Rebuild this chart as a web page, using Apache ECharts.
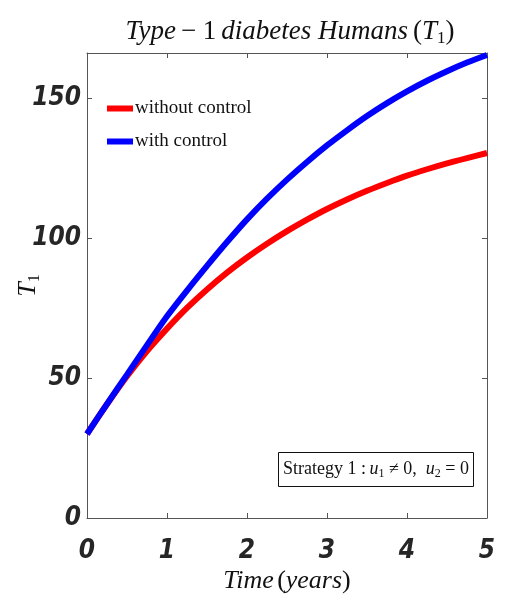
<!DOCTYPE html>
<html>
<head>
<meta charset="utf-8">
<script src="https://cdn.jsdelivr.net/npm/echarts@6/dist/echarts.min.js"></script>
<style>
  html, body { margin: 0; padding: 0; background: #fff; }
  #chart { width: 505px; height: 605px; }
</style>
</head>
<body>
<div id="chart"></div>
<script>
// Time points (years)
const timeYears = [0, 0.25, 0.5, 0.75, 1, 1.25, 1.5, 1.75, 2, 2.25, 2.5, 2.75, 3, 3.25, 3.5, 3.75, 4, 4.25, 4.5, 4.75, 5];
// T1 population without control
const withoutControl = [30, 40.6, 50.6, 59.6, 67.6, 75.0, 81.6, 87.6, 93.0, 97.9, 102.4, 106.5, 110.3, 113.7, 116.8, 119.6, 122.2, 124.5, 126.6, 128.5, 130.3];
// T1 population with control (strategy 1)
const withControl = [30, 40.7, 51.2, 61.7, 72.0, 81.2, 90.0, 98.5, 106.6, 114.0, 120.8, 127.1, 133.0, 138.4, 143.5, 148.1, 152.3, 156.1, 159.5, 162.6, 165.3];
const xTicks = [0, 1, 2, 3, 4, 5];
const yTicks = [0, 50, 100, 150];
const seriesNames = ['without control', 'with control'];

const tickFont = {
  fontFamily: '"DejaVu Sans Condensed", "Liberation Sans", sans-serif',
  fontWeight: 'bold',
  fontStyle: 'italic',
  fontSize: 26,
  color: '#262626'
};
const serif = '"Liberation Serif", "DejaVu Serif", serif';

const chart = echarts.init(document.getElementById('chart'));
const pair = arr => timeYears.map((t, i) => [t, arr[i]]);

const frameLine = { show: true, onZero: false, lineStyle: { color: '#555', width: 1 } };
const frameTick = { show: true, inside: true, length: 5, lineStyle: { color: '#555' } };

chart.setOption({
  animation: false,
  backgroundColor: '#fff',
  title: {
    text: '{i|Type} {r|− 1} {i|diabetes Humans} {r|(}{i|T}{s|1}{r|)}',
    left: 285,
    textAlign: 'center',
    top: 11,
    textStyle: {
      fontWeight: 'normal',
      rich: {
        i: { fontFamily: serif, fontStyle: 'italic', fontWeight: 'normal', fontSize: 27, color: '#111' },
        r: { fontFamily: serif, fontWeight: 'normal', fontSize: 27, color: '#111' },
        s: { fontFamily: serif, fontWeight: 'normal', fontSize: 17, color: '#111', padding: [14, 0, 0, 0] }
      }
    }
  },
  grid: { left: 87, right: 18, top: 53, bottom: 87, outerBoundsMode: 'none', containLabel: false },
  legend: {
    data: seriesNames,
    orient: 'vertical',
    left: 102,
    top: 94,
    itemWidth: 26,
    itemHeight: 6,
    itemGap: 14,
    icon: 'rect',
    textStyle: { fontFamily: serif, fontSize: 19, color: '#111', padding: [0, 0, 0, -3] }
  },
  xAxis: [{
    type: 'value',
    min: 0, max: 5, interval: 1,
    name: '{i|Time} {r|(}{i|years}{r|)}',
    nameLocation: 'middle',
    nameGap: 50,
    nameMoveOverlap: false,
    nameTextStyle: {
      rich: {
        i: { fontFamily: serif, fontStyle: 'italic', fontSize: 26, color: '#111' },
        r: { fontFamily: serif, fontSize: 26, color: '#111' }
      }
    },
    axisLine: frameLine,
    axisTick: frameTick,
    axisLabel: Object.assign({ margin: 20, formatter: v => xTicks.includes(v) ? String(v) : '' }, tickFont),
    splitLine: { show: false }
  }, {
    type: 'value',
    position: 'top',
    min: 0, max: 5, interval: 1,
    axisLine: frameLine,
    axisTick: frameTick,
    axisLabel: { show: false },
    splitLine: { show: false }
  }],
  yAxis: [{
    type: 'value',
    min: 0, max: 166, interval: 50,
    name: '{i|T}{s|1}',
    nameLocation: 'middle',
    nameGap: 44,
    nameMoveOverlap: false,
    nameRotate: 90,
    nameTextStyle: {
      rich: {
        i: { fontFamily: serif, fontStyle: 'italic', fontSize: 26, color: '#111' },
        s: { fontFamily: serif, fontSize: 16, color: '#111', padding: [14, 0, 0, 0] }
      }
    },
    axisLine: frameLine,
    axisTick: frameTick,
    axisLabel: Object.assign({ margin: 6, showMaxLabel: false, formatter: v => yTicks.includes(v) ? String(v) : '' }, tickFont),
    splitLine: { show: false }
  }, {
    type: 'value',
    position: 'right',
    min: 0, max: 166, interval: 50,
    axisLine: frameLine,
    axisTick: frameTick,
    axisLabel: { show: false },
    splitLine: { show: false }
  }],
  series: [{
    name: seriesNames[0],
    type: 'line',
    data: pair(withoutControl),
    smooth: 0.3,
    showSymbol: false,
    color: '#ff0000',
    lineStyle: { color: '#ff0000', width: 6 },
    z: 2
  }, {
    name: seriesNames[1],
    type: 'line',
    data: pair(withControl),
    smooth: 0.3,
    showSymbol: false,
    color: '#0000ff',
    lineStyle: { color: '#0000ff', width: 6 },
    z: 3
  }],
  graphic: [{
    type: 'rect',
    shape: { x: 278.5, y: 452.5, width: 195, height: 34 },
    style: { fill: '#fff', stroke: '#111', lineWidth: 1 },
    z: 10
  }, {
    type: 'text',
    x: 376, y: 469.5,
    style: {
      text: '{r|Strategy 1 :} {i|u}{s|1}{r| ≠ 0,  }{i|u}{s|2}{r| = 0}',
      align: 'center',
      verticalAlign: 'middle',
      rich: {
        r: { fontFamily: serif, fontSize: 18, fill: '#111' },
        i: { fontFamily: serif, fontStyle: 'italic', fontSize: 18, fill: '#111' },
        s: { fontFamily: serif, fontSize: 12, fill: '#111', padding: [8, 0, 0, 0] }
      }
    },
    z: 11
  }]
});
</script>
</body>
</html>
